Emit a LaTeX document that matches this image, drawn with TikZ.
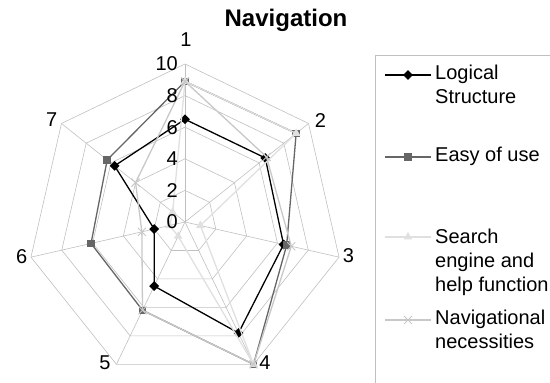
\documentclass[tikz,border=0pt]{standalone}
\usepackage{fontspec}
\setmainfont{Liberation Sans}
\usetikzlibrary{shapes.geometric, shapes.misc}
\definecolor{easygray}{HTML}{666666}
\definecolor{searchgray}{HTML}{E0E0E0}
\definecolor{navgray}{HTML}{C8C8C8}
\definecolor{gridgray}{HTML}{C0C0C0}

\begin{document}
\begin{tikzpicture}[x=1pt, y=1pt, font=\fontsize{20}{24}\selectfont]
  \tikzstyle{gridline} = [draw=gridgray, line width=0.6pt]
  \tikzstyle{logline} = [draw=black, line width=1.3pt, line join=round]
  \tikzstyle{easyline} = [draw=easygray, line width=1.3pt, line join=round]
  \tikzstyle{searchline} = [draw=searchgray, line width=1.3pt, line join=round]
  \tikzstyle{navline} = [draw=navgray, line width=1.3pt, line join=round]
  \tikzstyle{logmark} = [diamond, fill=black, inner sep=0pt, minimum size=10pt]
  \tikzstyle{easymark} = [rectangle, fill=easygray, inner sep=0pt, minimum size=7.5pt]
  \tikzstyle{searchmark} = [regular polygon, regular polygon sides=3, fill=searchgray, inner sep=0pt, minimum size=10pt]
  \tikzstyle{navmark} = [cross out, draw=navgray, line width=1pt, inner sep=0pt, minimum size=7pt]
  \tikzstyle{legtext} = [anchor=north west, inner sep=0pt, align=left]

  \useasboundingbox (0,0) rectangle (550,383);
  \node[font=\fontsize{24}{28}\selectfont\bfseries, anchor=base] (title) at (286,356) {Navigation};

  % radar chart
  \begin{scope}[shift={(185pt,161pt)}, x=15.8pt, y=15.8pt]
    \foreach \r in {2,4,...,10}
      \draw[gridline] (90:\r) \foreach \k in {1,...,6} { -- ({90-\k*360/7}:\r) } -- cycle;
    \foreach \k in {0,...,6}
      \draw[gridline] (0,0) -- ({90-\k*360/7}:10);

    \foreach \v [count=\k] in {6.5,6.5,6.4,7.8,4.5,2.0,5.7}
      \coordinate (log\k) at ({90-(\k-1)*360/7}:\v);
    \foreach \v [count=\k] in {8.9,9.0,6.6,10,6.2,6.1,6.3}
      \coordinate (easy\k) at ({90-(\k-1)*360/7}:\v);
    \foreach \v [count=\k] in {8.9,9.0,1.0,10,1.0,1.0,1.0}
      \coordinate (search\k) at ({90-(\k-1)*360/7}:\v);
    \foreach \v [count=\k] in {8.9,6.6,6.9,10,6.2,2.8,4.0}
      \coordinate (nav\k) at ({90-(\k-1)*360/7}:\v);

    \draw[logline] (log1) -- (log2) -- (log3) -- (log4) -- (log5) -- (log6) -- (log7) -- cycle;
    \foreach \k in {1,...,7} \node[logmark] (logm\k) at (log\k) {};
    \draw[easyline] (easy1) -- (easy2) -- (easy3) -- (easy4) -- (easy5) -- (easy6) -- (easy7) -- cycle;
    \foreach \k in {1,...,7} \node[easymark] (easym\k) at (easy\k) {};
    \draw[searchline] (search1) -- (search2) -- (search3) -- (search4) -- (search5) -- (search6) -- (search7) -- cycle;
    \foreach \k in {1,...,7} \node[searchmark] (searchm\k) at (search\k) {};
    \draw[navline] (nav1) -- (nav2) -- (nav3) -- (nav4) -- (nav5) -- (nav6) -- (nav7) -- cycle;
    \foreach \k in {1,...,7} \node[navmark] (navm\k) at (nav\k) {};

    \foreach \r in {0,2,...,10}
      \node[anchor=east, inner sep=0pt] (tick\r) at (-0.44,\r) {\r};
  \end{scope}

  % axis labels
  \node (ax1) at (186,343) {1};
  \node (ax2) at (320.5,262.5) {2};
  \node (ax3) at (348.5,127) {3};
  \node (ax4) at (265,20.5) {4};
  \node (ax5) at (105,20) {5};
  \node (ax6) at (21.7,126.5) {6};
  \node (ax7) at (51.7,263) {7};

  % legend
  \draw[gridline] (375,0) |- (550,328);
  \coordinate (logl) at (385,308);    \coordinate (logr) at (431,308);
  \coordinate (easyl) at (385,226);   \coordinate (easyr) at (431,226);
  \coordinate (searchl) at (385,146); \coordinate (searchr) at (431,146);
  \coordinate (navl) at (385,63);     \coordinate (navr) at (431,63);
  \draw[logline] (logl) -- (logr);
  \node[logmark] (loglm) at (408,308) {};
  \draw[easyline] (easyl) -- (easyr);
  \node[easymark] (easylm) at (408,226) {};
  \draw[searchline] (searchl) -- (searchr);
  \node[searchmark] (searchlm) at (408,146) {};
  \draw[navline] (navl) -- (navr);
  \node[navmark] (navlm) at (408,63) {};
  \node[legtext] (logtxt) at (435,318.4) {Logical\\Structure};
  \node[legtext] (easytxt) at (435,236.4) {Easy of use};
  \node[legtext] (searchtxt) at (435,154.4) {Search\\engine and\\help function};
  \node[legtext] (navtxt) at (435,73.4) {Navigational\\necessities};
\end{tikzpicture}
\end{document}
